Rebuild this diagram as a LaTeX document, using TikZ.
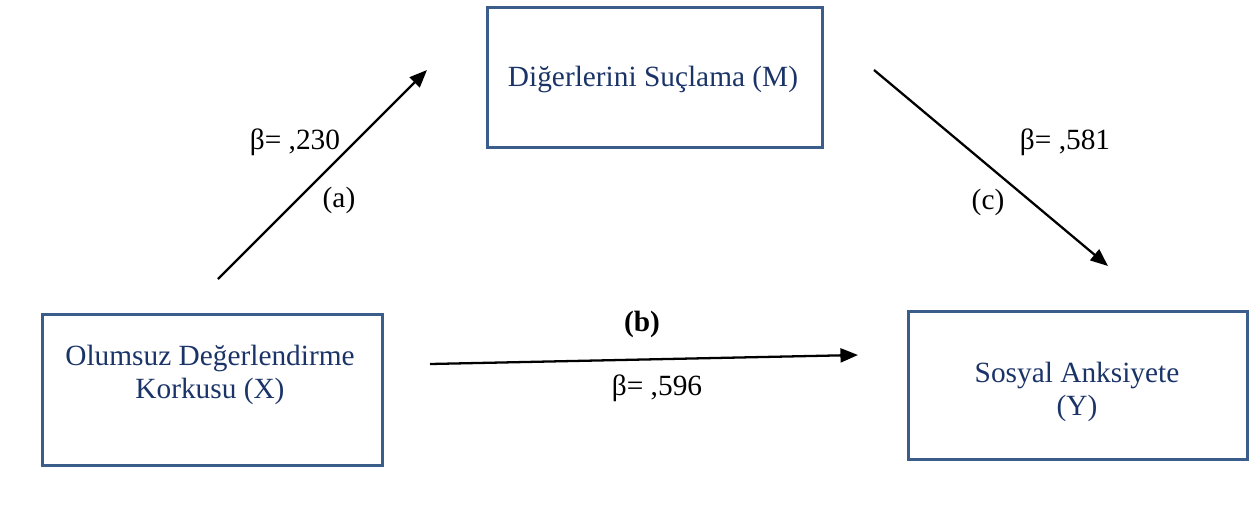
\documentclass[tikz,border=0pt]{standalone}
\usepackage{fontspec}
\setmainfont{Liberation Serif}
\usetikzlibrary{arrows.meta}
\definecolor{kutucizgi}{HTML}{3A5D8B}
\definecolor{kutuyazi}{HTML}{1B3468}

\begin{document}
\begin{tikzpicture}[x=0.02cm, y=-0.02cm,
  every node/.style={font=\fontsize{16.7}{18.7}\selectfont},
  kutu/.style={draw=kutucizgi, line width=1.5pt, anchor=north west, inner sep=0pt},
  yazi/.style={text=kutuyazi, align=center},
  ok/.style={-{Triangle[length=10pt,width=8pt]}, line width=1.3pt}]
  \useasboundingbox (0,0) rectangle (1254,521);

  % Kutular
  \node[kutu, minimum width=6.8cm, minimum height=3.02cm] (Xkutu) at (41,313) {};
  \node[kutu, minimum width=6.7cm, minimum height=2.8cm] (Mkutu) at (486,6) {};
  \node[kutu, minimum width=6.78cm, minimum height=2.96cm] (Ykutu) at (907,310) {};

  % Kutu yazilari
  \node[yazi] (X) at (210,375) {Olumsuz Değerlendirme\\Korkusu (X)};
  \node[yazi] (M) at (653,79) {Diğerlerini Suçlama (M)};
  \node[yazi] (Y) at (1077,392) {Sosyal Anksiyete\\(Y)};

  % Oklar
  \coordinate (a1) at (218,279);
  \coordinate (a2) at (427,70);
  \coordinate (c1) at (874,70);
  \coordinate (c2) at (1108,266);
  \coordinate (b1) at (430,364);
  \coordinate (b2) at (858,355);
  \draw[ok] (a1) -- (a2);
  \draw[ok] (c1) -- (c2);
  \draw[ok] (b1) -- (b2);

  % Katsayilar
  \node (beta-a) at (295,142) {β= ,230};
  \node (lbl-a) at (339,200) {(a)};
  \node (beta-c) at (1065,142) {β= ,581};
  \node (lbl-c) at (988,202) {(c)};
  \node[font=\fontsize{16.7}{18.7}\selectfont\bfseries] (lbl-b) at (642,324) {(b)};
  \node (beta-b) at (657,388) {β= ,596};
\end{tikzpicture}
\end{document}
